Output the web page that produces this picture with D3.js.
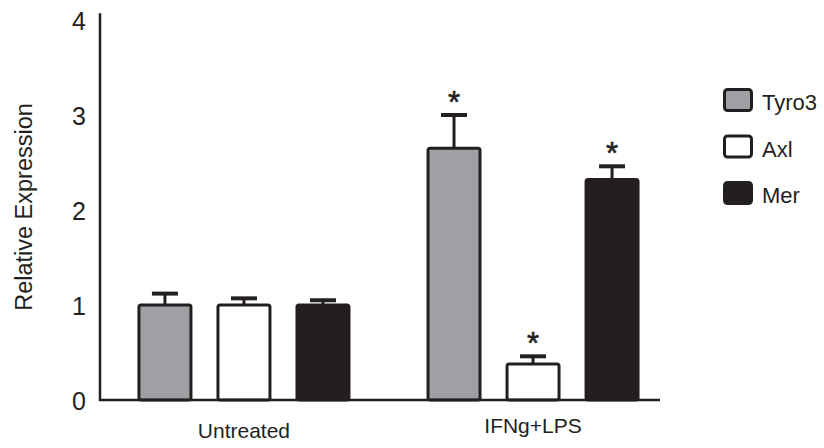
<!DOCTYPE html>
<html>
<head>
<meta charset="utf-8">
<script src="https://cdn.jsdelivr.net/npm/d3@7"></script>
<style>
  body { margin: 0; background: #fff; }
  text { font-family: "Liberation Sans", Arial, sans-serif; fill: #231f20; }
</style>
</head>
<body>
<svg id="chart"></svg>
<script>
// data
const groups = ['Untreated', 'IFNg+LPS'];
const series = ['Tyro3', 'Axl', 'Mer'];
const meanUntreated = [1.0, 1.0, 1.0];
const errUntreated = [0.12, 0.07, 0.05];
const meanStimulated = [2.65, 0.38, 2.32];
const errStimulated = [0.35, 0.08, 0.14];
const significant = [false, false, false, true, true, true];
const yTicks = [0, 1, 2, 3, 4];

const fills = {Tyro3: '#a09fa4', Axl: '#ffffff', Mer: '#231f20'};
const ink = '#231f20';

class GroupedBarChart {

  constructor(_config, _data) {
    this.config = {
      parentElement: _config.parentElement,
      containerWidth: _config.containerWidth || 824,
      containerHeight: _config.containerHeight || 448
    }
    this.data = _data;
    this.initVis();
  }

  initVis() {
    let vis = this;

    vis.svg = d3.select(vis.config.parentElement)
        .attr('width', vis.config.containerWidth)
        .attr('height', vis.config.containerHeight);

    vis.x0 = d3.scaleBand()
        .domain(groups)
        .range([100, 677])
        .paddingInner(0.18)
        .paddingOuter(0.088);

    vis.x1 = d3.scaleBand()
        .domain(series)
        .range([0, vis.x0.bandwidth()])
        .paddingInner(0.342)
        .paddingOuter(0.171);

    vis.yScale = d3.scaleLinear()
        .domain([0, 4])
        .range([400, 20]);

    vis.yAxis = d3.axisLeft(vis.yScale)
        .tickValues(yTicks)
        .tickSize(0)
        .tickPadding(14)
        .tickFormat(d3.format('d'));

    vis.marks = vis.svg.append('g');
    vis.axisG = vis.svg.append('g');
    vis.legend = vis.svg.append('g');

    vis.updateVis();
  }

  updateVis() {
    let vis = this;
    vis.renderVis();
  }

  renderVis() {
    let vis = this;
    const y = vis.yScale;

    const bars = vis.marks.selectAll('.bar-group')
        .data(vis.data)
      .join('g')
        .attr('class', 'bar-group')
        .attr('transform', d => `translate(${vis.x0(d.group) + vis.x1(d.series)},0)`);

    // error bars (upper only), drawn under the bar outline
    bars.append('line')
        .attr('x1', vis.x1.bandwidth() / 2)
        .attr('x2', vis.x1.bandwidth() / 2)
        .attr('y1', d => y(d.mean))
        .attr('y2', d => y(d.mean + d.err))
        .attr('stroke', ink)
        .attr('stroke-width', 3);

    bars.append('line')
        .attr('x1', vis.x1.bandwidth() / 2 - 13)
        .attr('x2', vis.x1.bandwidth() / 2 + 13)
        .attr('y1', d => y(d.mean + d.err))
        .attr('y2', d => y(d.mean + d.err))
        .attr('stroke', ink)
        .attr('stroke-width', 4);

    bars.append('rect')
        .attr('x', 0)
        .attr('width', vis.x1.bandwidth())
        .attr('y', d => y(d.mean))
        .attr('height', d => y(0) - y(d.mean))
        .attr('rx', 2)
        .attr('fill', d => fills[d.series])
        .attr('stroke', ink)
        .attr('stroke-width', 3);

    bars.filter(d => d.sig).append('text')
        .attr('x', vis.x1.bandwidth() / 2)
        .attr('y', d => y(d.mean + d.err) - 2)
        .attr('text-anchor', 'middle')
        .style('font-size', '31px')
        .style('stroke', ink)
        .style('stroke-width', 0.6)
        .text('*');

    // axes
    vis.axisG.append('g')
        .attr('transform', 'translate(100,0)')
        .call(vis.yAxis)
        .call(g => g.select('.domain').remove())
        .call(g => g.selectAll('text')
            .attr('dy', '0.36em')
            .style('font-size', '25px')
            .style('font-family', '"Liberation Sans", Arial, sans-serif')
            .attr('fill', ink));

    vis.axisG.append('line')
        .attr('x1', 100).attr('x2', 100)
        .attr('y1', y(0) + 1).attr('y2', y(4.07))
        .attr('stroke', ink).attr('stroke-width', 2.5);

    vis.axisG.append('line')
        .attr('x1', 99).attr('x2', 660)
        .attr('y1', y(0)).attr('y2', y(0))
        .attr('stroke', ink).attr('stroke-width', 2.5);

    vis.axisG.selectAll('.group-label')
        .data(groups)
      .join('text')
        .attr('class', 'group-label')
        .attr('x', d => vis.x0(d) + vis.x0.bandwidth() / 2)
        .attr('y', (d, i) => i === 0 ? 438 : 433)
        .attr('text-anchor', 'middle')
        .style('font-size', '21px')
        .text(d => d);

    vis.axisG.append('text')
        .attr('transform', 'translate(32,207) rotate(-90)')
        .attr('text-anchor', 'middle')
        .style('font-size', '23.5px')
        .text('Relative Expression');

    // legend
    const item = vis.legend.selectAll('.legend-item')
        .data(series)
      .join('g')
        .attr('class', 'legend-item')
        .attr('transform', (d, i) => `translate(723,${100 + i * 46.5})`);

    item.append('rect')
        .attr('x', 1.5).attr('y', -10.5)
        .attr('width', 27).attr('height', 21)
        .attr('rx', 3)
        .attr('fill', d => fills[d])
        .attr('stroke', ink)
        .attr('stroke-width', 3);

    item.append('text')
        .attr('x', 39)
        .attr('y', 10)
        .style('font-size', '22px')
        .text(d => d);
  }
}

const rows = [];
groups.forEach((g, gi) => {
  const means = gi === 0 ? meanUntreated : meanStimulated;
  const errs = gi === 0 ? errUntreated : errStimulated;
  series.forEach((s, si) => {
    rows.push({group: g, series: s, mean: means[si], err: errs[si], sig: significant[gi * 3 + si]});
  });
});

new GroupedBarChart({parentElement: '#chart'}, rows);
</script>
</body>
</html>
